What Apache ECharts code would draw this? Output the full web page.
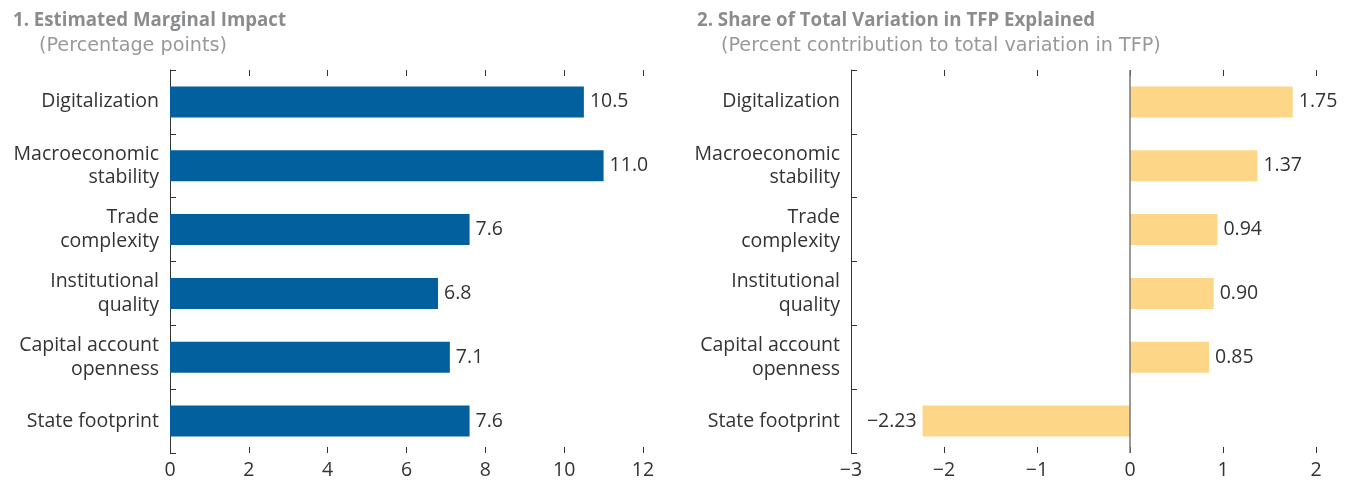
<!DOCTYPE html>
<html><head><meta charset="utf-8">
<script src="https://cdn.jsdelivr.net/npm/echarts@6/dist/echarts.min.js"></script>
<style>html,body{margin:0;padding:0;background:#fff}#c{width:1351px;height:484px}</style>
</head><body><div id="c"></div>
<script>
const categories = ['Digitalization','Macroeconomic\nstability','Trade\ncomplexity','Institutional\nquality','Capital account\nopenness','State footprint'];
const impactValues = [10.5, 11.0, 7.6, 6.8, 7.1, 7.6];
const shareValues = [1.75, 1.37, 0.94, 0.90, 0.85, -2.23];
const leftTicks = {min: 0, max: 12, interval: 2};
const rightTicks = {min: -3, max: 2, interval: 1};
const titles = ['1. Estimated Marginal Impact', '2. Share of Total Variation in TFP Explained'];
const subtitles = ['(Percentage points)', '(Percent contribution to total variation in TFP)'];

const FONT = 'Open Sans';
const SFONT = 'DejaVu Sans';
const minus = s => String(s).replace('-', '\u2212');
const chart = echarts.init(document.getElementById('c'));

function xAxes(gridIndex, t, bottom) {
  return {
    type: 'value', gridIndex, min: t.min, max: t.max, interval: t.interval,
    position: bottom ? 'bottom' : 'top',
    axisLine: {show: false},
    axisTick: {show: true, inside: true, length: 6, lineStyle: {color: '#333', width: 1}},
    splitLine: {show: false},
    axisLabel: bottom ? {show: true, color: '#333', fontFamily: FONT, fontSize: 19.5, margin: 7, formatter: v => minus(v)} : {show: false}
  };
}
function yAxis(gridIndex) {
  return {
    type: 'category', gridIndex, data: categories, inverse: true,
    axisLine: {show: true, onZero: false, lineStyle: {color: '#333', width: 1}},
    axisTick: {show: true, inside: true, length: 6, lineStyle: {color: '#333'}},
    axisLabel: {color: '#333', fontFamily: FONT, fontSize: 19.5, margin: 11, lineHeight: 23.5, align: 'right', padding: [2, 0, 0, 0]}
  };
}

chart.setOption({
  animation: false,
  textStyle: {fontFamily: FONT},
  title: [
    {text: titles[0], left: 8, top: 6, textStyle: {fontFamily: FONT, fontWeight: 'bold', fontSize: 18.7, color: '#8a8c8e'}},
    {text: subtitles[0], left: 34, top: 32, textStyle: {fontFamily: SFONT, fontWeight: 'normal', fontSize: 19.2, color: '#999'}},
    {text: titles[1], left: 692, top: 6, textStyle: {fontFamily: FONT, fontWeight: 'bold', fontSize: 18.7, color: '#8a8c8e'}},
    {text: subtitles[1], left: 716, top: 32, textStyle: {fontFamily: SFONT, fontWeight: 'normal', fontSize: 19.2, color: '#999'}}
  ],
  grid: [
    {left: 170, top: 70, width: 473, height: 383},
    {left: 851, top: 70, width: 465, height: 383}
  ],
  xAxis: [xAxes(0, leftTicks, true), xAxes(0, leftTicks, false), xAxes(1, rightTicks, true), xAxes(1, rightTicks, false)],
  yAxis: [yAxis(0), yAxis(1)],
  series: [
    {
      type: 'bar', xAxisIndex: 0, yAxisIndex: 0, data: impactValues, barWidth: 31,
      itemStyle: {color: '#02609f'},
      label: {show: true, position: 'right', distance: 6, color: '#333', fontFamily: FONT, fontSize: 19.5, formatter: p => p.value.toFixed(1)}
    },
    {
      type: 'bar', xAxisIndex: 2, yAxisIndex: 1, barWidth: 31,
      data: shareValues.map(v => ({value: v, label: {position: v < 0 ? 'left' : 'right'}})),
      itemStyle: {color: '#fdd688'},
      label: {show: true, distance: 6, color: '#333', fontFamily: FONT, fontSize: 19.5, formatter: p => minus(p.value.toFixed(2))},
      markLine: {silent: true, symbol: 'none', label: {show: false}, lineStyle: {color: '#777', width: 1.5, type: 'solid'}, data: [{xAxis: 0}]}
    }
  ]
});
</script></body></html>
